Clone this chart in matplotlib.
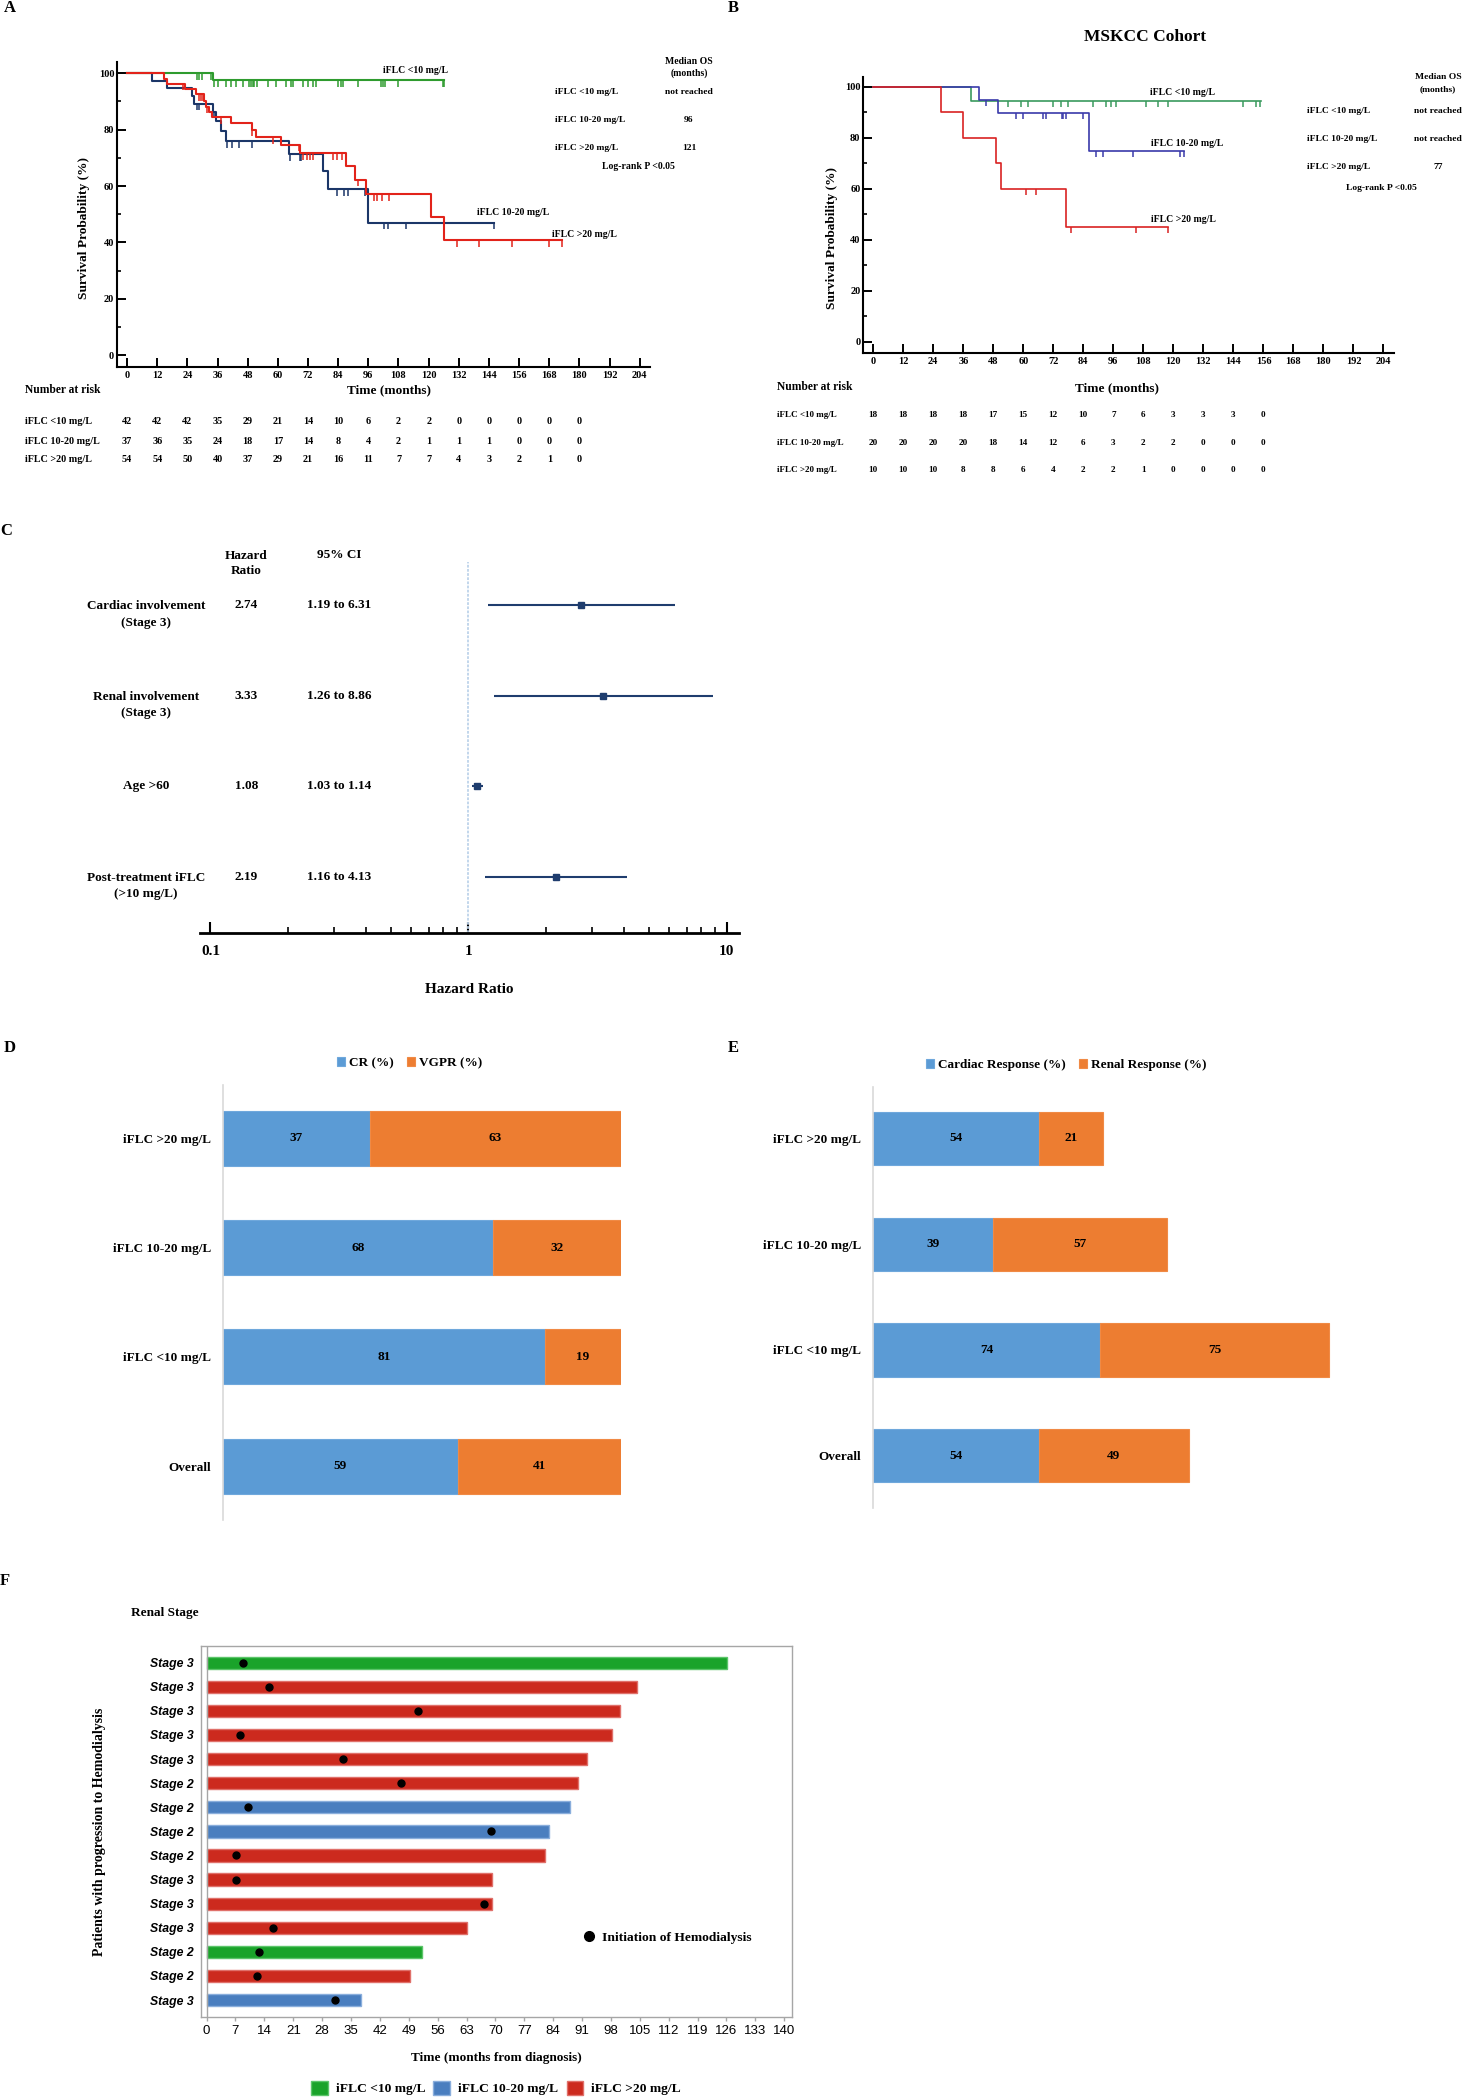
import matplotlib
matplotlib.use('Agg')
import matplotlib.pyplot as plt
import matplotlib.transforms as mtransforms
from matplotlib.lines import Line2D
from matplotlib.patches import Patch
import numpy as np

plt.rcParams['font.family'] = ['Liberation Serif', 'DejaVu Serif']
plt.rcParams['font.weight'] = 'bold'
plt.rcParams['axes.labelweight'] = 'bold'

W, H = 1463, 2100

# ---------------- DATA ----------------
# A: Kaplan-Meier, full cohort (step times, survival %, last follow-up, censor times)
a_lo_t = [0, 34.3]
a_lo_s = [100, 97.6]
a_lo_end = 126.1
a_lo_cens = [27.9, 28.7, 29.7, 33.4, 34.5, 36.3, 39.4, 41.3, 43.3, 46.0, 48.5, 49.2, 50.0,
             50.6, 51.8, 56.2, 59.3, 63.1, 65.1, 65.9, 70.1, 72.1, 74.1, 75.0, 84.1, 85.0,
             86.0, 92.0, 101.0, 101.9, 102.6, 107.9, 125.6, 126.1]

a_mid_t = [0, 10.1, 16.0, 25.8, 26.8, 34.0, 35.5, 37.5, 39.5, 64.3, 78.0, 80.0, 96.0]
a_mid_s = [100, 97.3, 94.6, 91.9, 89.2, 86.3, 82.9, 79.4, 75.8, 71.3, 65.4, 58.8, 47.0]
a_mid_end = 146.2
a_mid_cens = [27.9, 28.7, 34.5, 39.9, 41.9, 44.4, 49.6, 65.0, 68.7, 69.2, 83.4, 86.4, 88.1,
              94.7, 102.3, 103.9, 111.1, 146.2]

a_hi_t = [0, 14.7, 15.7, 23.2, 27.3, 30.6, 31.5, 32.6, 33.9, 41.2, 49.6, 51.2, 61.3, 68.8,
          87.1, 90.7, 95.1, 121.0, 126.1]
a_hi_s = [100, 98.1, 96.2, 94.4, 92.5, 90.3, 88.2, 86.2, 84.4, 82.3, 79.9, 77.3, 74.7, 71.7,
          67.0, 62.3, 57.0, 49.0, 40.7]
a_hi_end = 173.0
a_hi_cens = [22.2, 28.8, 29.6, 30.4, 32.0, 37.2, 49.8, 58.2, 68.4, 70.1, 71.5, 72.8, 74.1,
             82.1, 83.7, 85.4, 92.0, 98.2, 99.6, 101.3, 104.2, 131.1, 140.0, 153.2, 168.0, 173.0]

risk_times_a = list(range(0, 181, 12))
risk_a_lo = [42, 42, 42, 35, 29, 21, 14, 10, 6, 2, 2, 0, 0, 0, 0, 0]
risk_a_mid = [37, 36, 35, 24, 18, 17, 14, 8, 4, 2, 1, 1, 1, 0, 0, 0]
risk_a_hi = [54, 54, 50, 40, 37, 29, 21, 16, 11, 7, 7, 4, 3, 2, 1, 0]
median_a = ['not reached', '96', '121']

# B: Kaplan-Meier, MSKCC cohort
b_lo_t = [0, 39.0]
b_lo_s = [100, 94.4]
b_lo_end = 155.0
b_lo_cens = [54.0, 59.0, 62.0, 72.0, 75.1, 77.7, 87.7, 92.9, 94.9, 96.9, 109.0, 113.9,
             117.9, 147.9, 153.0, 154.6]

b_mid_t = [0, 42.2, 50.0, 86.3]
b_mid_s = [100, 95.0, 89.8, 74.8]
b_mid_end = 124.2
b_mid_cens = [45.0, 57.0, 60.0, 68.0, 68.9, 75.3, 76.0, 77.1, 84.0, 89.0, 92.0, 104.0,
              122.6, 124.2]

b_hi_t = [0, 27.1, 35.8, 49.0, 51.0, 77.1]
b_hi_s = [100, 90, 80, 70, 60, 45]
b_hi_end = 117.9
b_hi_cens = [61.1, 65.0, 79.1, 105.0, 117.9]

risk_times_b = list(range(0, 157, 12))
risk_b_lo = [18, 18, 18, 18, 17, 15, 12, 10, 7, 6, 3, 3, 3, 0]
risk_b_mid = [20, 20, 20, 20, 18, 14, 12, 6, 3, 2, 2, 0, 0, 0]
risk_b_hi = [10, 10, 10, 8, 8, 6, 4, 2, 2, 1, 0, 0, 0, 0]
median_b = ['not reached', 'not reached', '77']

group_labels = ['iFLC <10 mg/L', 'iFLC 10-20 mg/L', 'iFLC >20 mg/L']

# C: Cox model forest plot
c_vars = ['Cardiac involvement\n(Stage 3)', 'Renal involvement\n(Stage 3)', 'Age >60',
          'Post-treatment iFLC\n(>10 mg/L)']
c_hr = [2.74, 3.33, 1.08, 2.19]
c_lo = [1.19, 1.26, 1.03, 1.16]
c_hi = [6.31, 8.86, 1.14, 4.13]

# D / E: stacked response bars (bottom to top)
de_groups = ['Overall', 'iFLC <10 mg/L', 'iFLC 10-20 mg/L', 'iFLC >20 mg/L']
d_cr = [59, 81, 68, 37]
d_vgpr = [41, 19, 32, 63]
e_cardiac = [54, 74, 39, 54]
e_renal = [49, 75, 57, 21]

# F: swimmer plot (top to bottom)
f_stage = ['Stage 3', 'Stage 3', 'Stage 3', 'Stage 3', 'Stage 3', 'Stage 2', 'Stage 2',
           'Stage 2', 'Stage 2', 'Stage 3', 'Stage 3', 'Stage 3', 'Stage 2', 'Stage 2',
           'Stage 3']
f_group = ['<10', '>20', '>20', '>20', '>20', '>20', '10-20', '10-20', '>20', '>20', '>20',
           '>20', '<10', '>20', '10-20']
f_end = [126.1, 104.3, 100.2, 98.3, 92.3, 90.0, 88.1, 83.1, 82.1, 69.1, 69.1, 63.1, 52.3,
         49.2, 37.5]
f_hd = [8.7, 15.1, 51.2, 8.2, 33.1, 47.1, 10.1, 69.0, 7.2, 7.2, 67.2, 16.1, 12.7, 12.2, 31.2]

# ---------------- FIGURE ----------------
fig = plt.figure(figsize=(W / 100, H / 100), dpi=100)


def box(l, t, r, b):
    return fig.add_axes([l / W, 1 - b / H, (r - l) / W, (b - t) / H])


def ftext(x, y, s, **kw):
    kw.setdefault('va', 'center')
    return fig.text(x / W, 1 - y / H, s, **kw)


def km_curve(ax, t, s, end, cens, color, lw):
    ax.step(list(t) + [end], list(s) + [s[-1]], where='post', color=color, lw=lw)
    idx = np.searchsorted(t, cens, side='right') - 1
    lev = np.array(s)[idx]
    ax.vlines(cens, lev - 2.3, lev, color=color, lw=1.1)


def km_axes(ax):
    ax.set_xlim(-4, 208.2)
    ax.set_ylim(-4.2, 104)
    for sp in ['top', 'right']:
        ax.spines[sp].set_visible(False)
    for sp in ['left', 'bottom']:
        ax.spines[sp].set_linewidth(1.5)
    ax.set_xticks(np.arange(0, 205, 12))
    ax.set_yticks(range(0, 101, 20))
    ax.set_yticks(range(10, 100, 20), minor=True)
    ax.tick_params(direction='in', length=6.5, width=1.4, labelsize=7.5)
    ax.tick_params(axis='y', pad=2)
    ax.tick_params(axis='x', pad=3)
    ax.tick_params(which='minor', direction='in', length=3, width=1.2)
    ax.patch.set_alpha(0)


# ---- A ----
ftext(4, 8, 'A', size=12)
axA = box(117, 62, 650.3, 367)
km_axes(axA)
km_curve(axA, a_lo_t, a_lo_s, a_lo_end, a_lo_cens, '#2E9B2E', 1.5)
km_curve(axA, a_mid_t, a_mid_s, a_mid_end, a_mid_cens, '#1B3668', 1.5)
km_curve(axA, a_hi_t, a_hi_s, a_hi_end, a_hi_cens, '#E2231A', 1.5)
axA.text(127.7, 101, 'iFLC <10 mg/L', ha='right', va='center', size=7)
axA.text(139.3, 50.5, 'iFLC 10-20 mg/L', ha='left', va='center', size=7)
axA.text(169, 42.7, 'iFLC >20 mg/L', ha='left', va='center', size=7)
ftext(84, 228, 'Survival Probability (%)', rotation=90, ha='center', size=9.6)
ftext(389, 390, 'Time (months)', ha='center', size=9.5)
ftext(25, 390, 'Number at risk', ha='left', size=8.3)
transA = mtransforms.blended_transform_factory(axA.transData, fig.transFigure)
for y, lab, counts in zip([421.7, 441.7, 460], group_labels, [risk_a_lo, risk_a_mid, risk_a_hi]):
    ftext(25, y, lab, ha='left', size=7.3)
    for t, n in zip(risk_times_a, counts):
        axA.text(t, 1 - y / H, str(n), transform=transA, ha='center', va='center', size=7.3)
ftext(689, 61.7, 'Median OS', ha='center', size=7)
ftext(689, 73.3, '(months)', ha='center', size=7)
for y, lab, med in zip([92.3, 120, 147.7], group_labels, median_a):
    ftext(555, y, lab, ha='left', size=6.8)
    ftext(689, y, med, ha='center', size=6.8)
ftext(638, 166.7, 'Log-rank P <0.05', ha='center', size=7)

# ---- B ----
ftext(728, 8, 'B', size=12)
ftext(1145, 36.7, 'MSKCC Cohort', ha='center', size=12.5)
axB = box(863.2, 76.7, 1394, 352.7)
km_axes(axB)
km_curve(axB, b_lo_t, b_lo_s, b_lo_end, b_lo_cens, '#3A9A5E', 1.2)
km_curve(axB, b_mid_t, b_mid_s, b_mid_end, b_mid_cens, '#3A3AAA', 1.2)
km_curve(axB, b_hi_t, b_hi_s, b_hi_end, b_hi_cens, '#D92323', 1.2)
axB.text(110.6, 97.7, 'iFLC <10 mg/L', ha='left', va='center', size=7)
axB.text(111.2, 77.7, 'iFLC 10-20 mg/L', ha='left', va='center', size=7)
axB.text(111.2, 48.0, 'iFLC >20 mg/L', ha='left', va='center', size=7)
ftext(832.5, 238, 'Survival Probability (%)', rotation=90, ha='center', size=9.6)
ftext(1117, 388, 'Time (months)', ha='center', size=9.5)
ftext(777, 386.7, 'Number at risk', ha='left', size=8.3)
transB = mtransforms.blended_transform_factory(axB.transData, fig.transFigure)
for y, lab, counts in zip([415, 443.3, 470], group_labels, [risk_b_lo, risk_b_mid, risk_b_hi]):
    ftext(777, y, lab, ha='left', size=6.5)
    for t, n in zip(risk_times_b, counts):
        axB.text(t, 1 - y / H, str(n), transform=transB, ha='center', va='center', size=6.6)
ftext(1438, 76.7, 'Median OS', ha='center', size=6.8)
ftext(1438, 89, '(months)', ha='center', size=6.8)
for y, lab, med in zip([111, 139, 166.7], group_labels, median_b):
    ftext(1306.7, y, lab, ha='left', size=6.8)
    ftext(1438, y, med, ha='center', size=6.8)
ftext(1381.7, 187.7, 'Log-rank P <0.05', ha='center', size=6.8)

# ---- C ----
ftext(0, 531, 'C', size=12)
axC = box(200, 561.7, 739, 932.7)
axC.set_xscale('log')
axC.set_xlim(0.0911, 11.18)
axC.set_ylim(3.617, -0.478)
ypos = np.arange(len(c_vars))
hr = np.array(c_hr)
axC.axvline(1, color='#BDD3EA', lw=1.3, ls=(0, (1.5, 0.8)))
axC.errorbar(hr, ypos, xerr=[hr - np.array(c_lo), np.array(c_hi) - hr], fmt='s',
             color='#1F3D6E', ms=5, lw=1.5, capsize=0)
for sp in ['top', 'right', 'left']:
    axC.spines[sp].set_visible(False)
axC.spines['bottom'].set_linewidth(2)
axC.set_yticks([])
axC.set_xticks([0.1, 1, 10])
axC.set_xticklabels(['0.1', '1', '10'])
axC.tick_params(axis='x', which='major', direction='in', length=8, width=1.5, labelsize=11, pad=9)
axC.tick_params(axis='x', which='minor', direction='in', length=4.5, width=1.2)
axC.set_xlabel('Hazard Ratio', fontsize=11, labelpad=18)
axC.patch.set_alpha(0)
transC = mtransforms.blended_transform_factory(axC.transAxes, axC.transData)
for i, (v, h, lo, hi) in enumerate(zip(c_vars, c_hr, c_lo, c_hi)):
    off = 0.105 if '\n' in v else 0
    axC.text(-0.1004, i + off, v, transform=transC, ha='center', va='center', size=9.5,
             linespacing=1.45)
    axC.text(0.0859, i, f'{h:.2f}', transform=transC, ha='center', va='center', size=9.5)
    axC.text(0.259, i, f'{lo:.2f} to {hi:.2f}', transform=transC, ha='center', va='center',
             size=9.5)
axC.text(0.0859, -0.46, 'Hazard\nRatio', transform=transC, ha='center', va='center', size=9.5,
         linespacing=1.3)
axC.text(0.259, -0.552, '95% CI', transform=transC, ha='center', va='center', size=9.5)

# ---- D & E ----
c_blue, c_orange = '#5B9BD5', '#ED7D31'


def stacked(ax, a, b, xmax, lab_a, lab_b, leg_xy):
    y = np.arange(len(de_groups))
    ha_ = ax.barh(y, a, height=0.503, color=c_blue, edgecolor='#6FA8DC', lw=0.8, label=lab_a)
    hb_ = ax.barh(y, b, left=a, height=0.503, color=c_orange, edgecolor='#F08A45', lw=0.8,
                  label=lab_b)
    for yi, va_, vb_ in zip(y, a, b):
        ax.text(va_ / 2, yi, str(va_), ha='center', va='center', size=9.5)
        ax.text(va_ + vb_ / 2, yi, str(vb_), ha='center', va='center', size=9.5)
    ax.set_xlim(0, xmax)
    ax.set_ylim(-0.493, 3.488)
    ax.set_yticks(y)
    ax.set_yticklabels(de_groups)
    ax.tick_params(axis='y', length=0, labelsize=9.5, pad=8.5)
    ax.set_xticks([])
    for sp in ['top', 'right', 'bottom']:
        ax.spines[sp].set_visible(False)
    ax.spines['left'].set_color('#D9D9D9')
    ax.spines['left'].set_linewidth(1.2)
    fig.legend(handles=[ha_, hb_], loc='center', bbox_to_anchor=(leg_xy[0] / W, 1 - leg_xy[1] / H),
               ncol=2, frameon=False, handlelength=0.6, handleheight=0.6, handletextpad=0.3,
               columnspacing=1.0, prop={'size': 9.5, 'weight': 'bold'})


ftext(4, 1048, 'D', size=12)
axD = box(223, 1085, 620.5, 1520)
stacked(axD, d_cr, d_vgpr, 100, 'CR (%)', 'VGPR (%)', (409.5, 1063.3))

ftext(728, 1048, 'E', size=12)
axE = box(873.2, 1086.7, 1363, 1508)
stacked(axE, e_cardiac, e_renal, 160, 'Cardiac Response (%)', 'Renal Response (%)', (1066.5, 1065))

# ---- F ----
ftext(0, 1581, 'F', size=12)
ftext(131, 1613, 'Renal Stage', ha='left', size=9.5)
axF = box(200.5, 1646, 792.3, 2016.7)
f_colors = {'<10': '#1AA32A', '10-20': '#4A7EBF', '>20': '#CC2A1E'}
f_edges = {'<10': '#5CC56A', '10-20': '#8AAEDC', '>20': '#E0706A'}
rows = np.arange(len(f_end))
axF.barh(rows, f_end, height=0.51, color=[f_colors[g] for g in f_group],
         edgecolor=[f_edges[g] for g in f_group], lw=1)
axF.plot(f_hd, rows, 'o', color='black', ms=5)
axF.axvline(0, color='#A6A6A6', lw=1)
axF.set_xlim(-1.48, 141.95)
axF.set_ylim(14.69, -0.693)
axF.set_xticks(np.arange(0, 141, 7))
axF.set_yticks(rows)
axF.set_yticklabels(f_stage, family=['Liberation Sans', 'DejaVu Sans'], style='italic',
                    weight='bold', size=8.8)
axF.tick_params(axis='y', length=0, pad=4.5)
axF.tick_params(axis='x', direction='out', length=3, width=1, color='#A6A6A6', pad=3)
for lab in axF.get_xticklabels():
    lab.set_family(['Liberation Sans', 'DejaVu Sans'])
    lab.set_weight('normal')
    lab.set_size(9.5)
for sp in axF.spines.values():
    sp.set_color('#A6A6A6')
    sp.set_linewidth(1)
axF.set_xlabel('Time (months from diagnosis)', fontsize=9.5, labelpad=11)
ftext(99.5, 1831.5, 'Patients with progression to Hemodialysis', rotation=90, ha='center',
      size=10)
axF.legend(handles=[Line2D([], [], marker='o', ls='', color='black', ms=7)],
           labels=['Initiation of Hemodialysis'], loc='center left',
           bbox_to_anchor=(0.645, 0.213), frameon=False, handlelength=1, handletextpad=0.5,
           borderpad=0, borderaxespad=0, prop={'size': 9.7, 'weight': 'bold'})
f_handles = [Patch(facecolor=f_colors[g], edgecolor=f_edges[g], lw=1) for g in ['<10', '10-20', '>20']]
fig.legend(handles=f_handles, labels=group_labels, loc='center',
           bbox_to_anchor=(496 / W, 1 - 2088 / H), ncol=3, frameon=False,
           handlelength=1.25, handleheight=1.25, handletextpad=0.6, columnspacing=0.6,
           prop={'size': 9.7, 'weight': 'bold'})

fig.savefig('out.png', dpi=100, facecolor='white')
